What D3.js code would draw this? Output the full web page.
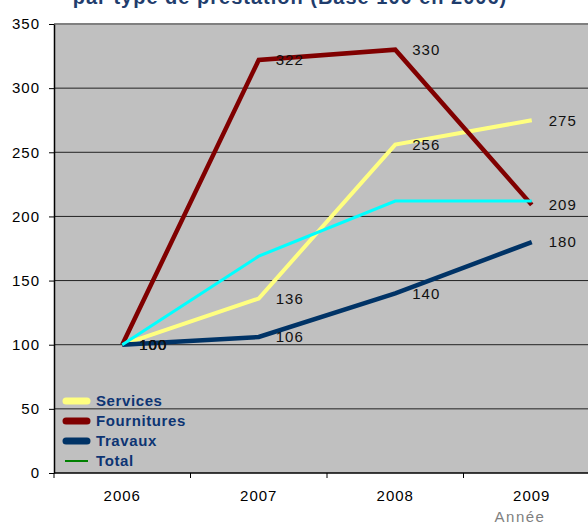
<!DOCTYPE html>
<html>
<head>
<meta charset="utf-8">
<script src="https://cdn.jsdelivr.net/npm/d3@7"></script>
<style>
  html, body { margin: 0; padding: 0; background: #ffffff; }
  svg { display: block; font-family: "Liberation Sans", Arial, sans-serif; }
</style>
</head>
<body>
<svg id="chart" width="588" height="526"></svg>
<script>
// Indices par type de prestation (base 100 en 2006)
const years = ["2006", "2007", "2008", "2009"];
const services = [100, 136, 256, 275];
const fournitures = [100, 322, 330, 209];
const travaux = [100, 106, 140, 180];
const total = [100, 169, 212, 212];
const yTicks = [0, 50, 100, 150, 200, 250, 300, 350];

const seriesList = [
  { name: "Services", values: services, color: "#ffff80", width: 4, labels: true, legend: "#ffff80", legendWidth: 7 },
  { name: "Fournitures", values: fournitures, color: "#800000", width: 4.5, labels: true, legend: "#800000", legendWidth: 7 },
  { name: "Travaux", values: travaux, color: "#003366", width: 4.5, labels: true, legend: "#003366", legendWidth: 7 },
  { name: "Total", values: total, color: "#00ffff", width: 3, labels: false, legend: "#008000", legendWidth: 2 }
];

const svg = d3.select("#chart");
const plot = { left: 54, right: 600, top: 24, bottom: 473 };

const x = d3.scaleBand().domain(years).range([plot.left, plot.right]);
const y = d3.scaleLinear().domain([0, 350]).range([plot.bottom, plot.top]);
const cx = d => x(d) + x.bandwidth() / 2;

// Title (runs off the top edge)
svg.append("text")
  .attr("x", 290).attr("y", 4)
  .attr("text-anchor", "middle")
  .attr("font-size", 20).attr("font-weight", "bold")
  .attr("letter-spacing", 1)
  .attr("fill", "#1f3d6d")
  .text("par type de prestation (Base 100 en 2006)");

// Plot background
svg.append("rect")
  .attr("x", plot.left).attr("y", plot.top)
  .attr("width", plot.right - plot.left).attr("height", plot.bottom - plot.top)
  .attr("fill", "#c0c0c0");

// Horizontal gridlines
svg.append("g").selectAll("line")
  .data(yTicks.filter(v => v > 0 && v < 350))
  .join("line")
  .attr("x1", plot.left).attr("x2", plot.right)
  .attr("y1", d => y(d)).attr("y2", d => y(d))
  .attr("stroke", "#222").attr("stroke-width", 1);

// Top border of the plot area
svg.append("line")
  .attr("x1", plot.left).attr("x2", plot.right)
  .attr("y1", y(350)).attr("y2", y(350))
  .attr("stroke", "#808080").attr("stroke-width", 2);

// Y axis
const yAxis = svg.append("g")
  .attr("transform", `translate(${plot.left},0)`)
  .call(d3.axisLeft(y).tickValues(yTicks).tickSize(5).tickPadding(9).tickSizeOuter(0));
yAxis.select(".domain").attr("stroke", "#000").attr("stroke-width", 1.5);
yAxis.selectAll(".tick line").attr("stroke", "#000");
yAxis.selectAll("text").attr("font-size", 15).attr("fill", "#000")
  .attr("letter-spacing", 1)
  .attr("font-family", "'Liberation Sans', Arial, sans-serif");

// X axis: ticks at the band boundaries, labels centred in each band
const xAxisG = svg.append("g").attr("transform", `translate(0,${plot.bottom})`);
xAxisG.append("line")
  .attr("x1", plot.left).attr("x2", plot.right)
  .attr("y1", 0).attr("y2", 0)
  .attr("stroke", "#000").attr("stroke-width", 1.5);
xAxisG.selectAll(".btick")
  .data(years)
  .join("line")
  .attr("class", "btick")
  .attr("x1", d => x(d)).attr("x2", d => x(d))
  .attr("y1", 0).attr("y2", 5)
  .attr("stroke", "#000");
xAxisG.selectAll(".xlabel")
  .data(years)
  .join("text")
  .attr("class", "xlabel")
  .attr("x", d => cx(d)).attr("y", 28)
  .attr("text-anchor", "middle")
  .attr("font-size", 15).attr("letter-spacing", 1).attr("fill", "#000")
  .text(d => d);

// Axis title
svg.append("text")
  .attr("x", 520).attr("y", 522)
  .attr("text-anchor", "middle")
  .attr("font-size", 15).attr("letter-spacing", 1.5).attr("fill", "#808080")
  .text("Année");

// Series lines
const line = d3.line()
  .x((v, i) => cx(years[i]))
  .y(v => y(v));

svg.append("g").selectAll("path")
  .data(seriesList)
  .join("path")
  .attr("d", s => line(s.values))
  .attr("fill", "none")
  .attr("stroke", s => s.color)
  .attr("stroke-width", s => s.width)
  .attr("stroke-linejoin", "miter");

// Value labels
const labelled = seriesList.filter(s => s.labels);
svg.append("g").selectAll("g")
  .data(labelled)
  .join("g")
  .selectAll("text")
  .data(s => s.values.map((v, i) => ({ v, year: years[i] })))
  .join("text")
  .attr("x", d => cx(d.year) + 17)
  .attr("y", d => y(d.v))
  .attr("dy", "0.36em")
  .attr("font-size", 15)
  .attr("letter-spacing", 1)
  .attr("fill", "#111")
  .text(d => d.v);

// Legend
const legend = svg.append("g").attr("transform", "translate(63,401)");
const rows = legend.selectAll("g")
  .data(seriesList)
  .join("g")
  .attr("transform", (d, i) => `translate(0,${i * 20})`);
rows.append("line")
  .attr("x1", d => d.legendWidth > 3 ? 3 : 2)
  .attr("x2", d => d.legendWidth > 3 ? 24 : 25)
  .attr("y1", 0).attr("y2", 0)
  .attr("stroke", d => d.legend)
  .attr("stroke-width", d => d.legendWidth)
  .attr("stroke-linecap", d => d.legendWidth > 3 ? "round" : "butt");
rows.append("text")
  .attr("x", 33).attr("y", 0).attr("dy", "0.36em")
  .attr("font-size", 15).attr("font-weight", "bold")
  .attr("letter-spacing", 0.6)
  .attr("fill", "#0d3473")
  .text(d => d.name);
</script>
</body>
</html>
